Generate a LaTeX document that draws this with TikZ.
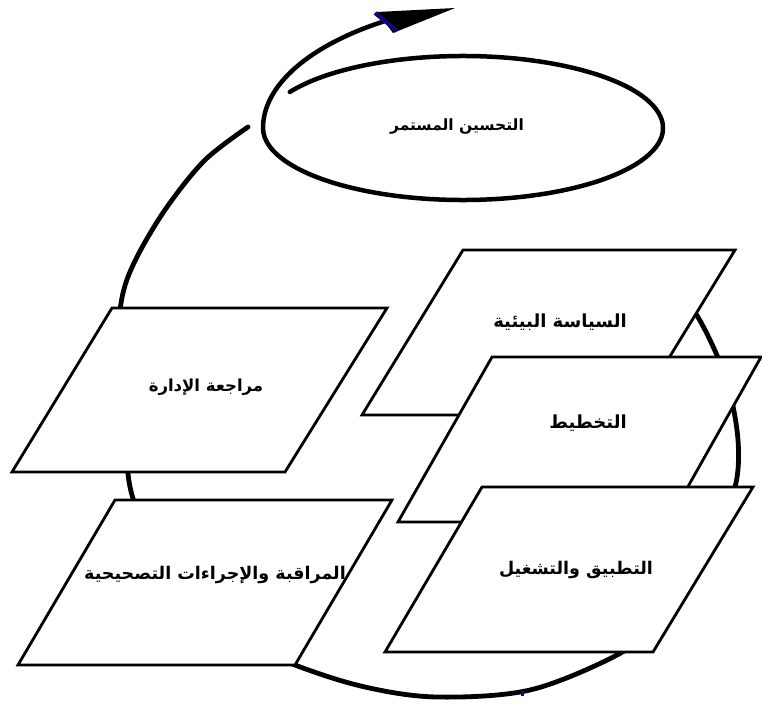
\documentclass[tikz,border=0pt]{standalone}
\usepackage{fontspec}
\usetikzlibrary{calc}
\TeXXeTstate=1
\newfontfamily\arabicfont[Script=Arabic,BoldFont={DejaVu Sans Bold}]{DejaVu Sans}
\definecolor{markblue}{RGB}{10,10,130}
\begin{document}
\begin{tikzpicture}[x=1pt,y=-1pt,
  boxshape/.style={draw=black,fill=white,line width=2.8pt,line join=miter},
  loopline/.style={draw=black,line width=4.5pt,line cap=round},
  lbl/.style={font=\arabicfont\bfseries,inner sep=0pt}]
\useasboundingbox (0,0) rectangle (762,704);
% big cycle
\draw[loopline,line width=4.8pt] plot[smooth,tension=0.55] coordinates {
 (248,127) (205,160) (167,207) (138,255) (123,293) (117,345) (119,400)
 (126,450) (132,495) (160,570) (215,630) (295,665) (365,687) (437,697)
 (530,690) (617,655) (652,625) (685,580) (713,530) (735,487) (738,440) (728,385)
 (710,340) (690,305) (665,280)};
% boxes
\coordinate (p1) at (463,250); \coordinate (p2) at (735,250);
\coordinate (p3) at (634,415); \coordinate (p4) at (362,415);
\draw[boxshape] (p1) -- (p2) -- (p3) -- (p4) -- cycle;
\coordinate (q1) at (492,357); \coordinate (q2) at (761,357);
\coordinate (q3) at (668,522); \coordinate (q4) at (398,522);
\draw[boxshape] (q1) -- (q2) -- (q3) -- (q4) -- cycle;
\coordinate (r1) at (482,487); \coordinate (r2) at (753,487);
\coordinate (r3) at (653,652); \coordinate (r4) at (385,652);
\draw[boxshape] (r1) -- (r2) -- (r3) -- (r4) -- cycle;
\coordinate (m1) at (112,308); \coordinate (m2) at (387,308);
\coordinate (m3) at (285,472); \coordinate (m4) at (12,472);
\draw[boxshape] (m1) -- (m2) -- (m3) -- (m4) -- cycle;
\coordinate (n1) at (115,500); \coordinate (n2) at (392,500);
\coordinate (n3) at (295,665); \coordinate (n4) at (18,665);
\draw[boxshape] (n1) -- (n2) -- (n3) -- (n4) -- cycle;
% continual improvement spiral
\coordinate (ec) at (463,128);
\coordinate (es) at ($(ec)+(-150:200 and 72)$);
\coordinate (ab) at (385,21);
\coordinate (tip) at (455,8);
\draw[loopline] (es) arc[start angle=-150,end angle=180,x radius=200,y radius=72]
  .. controls (263,85) and (310,45) .. (ab);
\fill[black] (tip) -- (377,12) -- (393,33) -- cycle;
\draw[draw=markblue,line width=4pt] (375,13) -- (397,31);
\fill[markblue] (521,691) rectangle (524,696);
% labels
\node[lbl,font=\arabicfont\bfseries\fontsize{15.5}{18}\selectfont] (tcont) at (457,127) {\beginR التحسين المستمر\endR};
\node[lbl,font=\arabicfont\bfseries\fontsize{18}{21}\selectfont] (tpol) at (560,322) {\beginR السياسة البيئية\endR};
\node[lbl,font=\arabicfont\bfseries\fontsize{18}{21}\selectfont] (tplan) at (588,423) {\beginR التخطيط\endR};
\node[lbl,font=\arabicfont\bfseries\fontsize{17.5}{21}\selectfont] (timpl) at (576,570) {\beginR التطبيق والتشغيل\endR};
\node[lbl,font=\arabicfont\bfseries\fontsize{16.5}{20}\selectfont] (trev) at (206,387) {\beginR مراجعة الإدارة\endR};
\node[lbl,font=\arabicfont\bfseries\fontsize{17.5}{21}\selectfont] (tmon) at (215,575) {\beginR المراقبة والإجراءات التصحيحية\endR};
\end{tikzpicture}
\end{document}
